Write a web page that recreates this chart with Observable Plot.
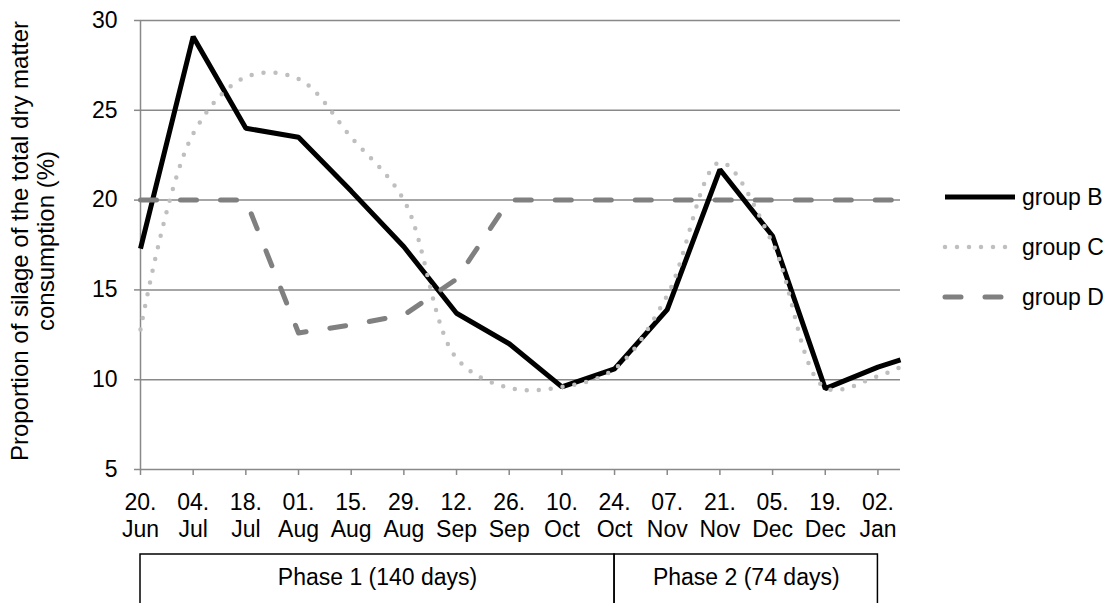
<!DOCTYPE html>
<html>
<head>
<meta charset="utf-8">
<script src="https://cdn.jsdelivr.net/npm/d3@7"></script>
<script src="https://cdn.jsdelivr.net/npm/@observablehq/plot@0.6"></script>
<style>
  html, body { margin: 0; padding: 0; background: #fff; overflow: hidden; }
  body { width: 1112px; height: 603px; position: relative; font-family: "Liberation Sans", Arial, sans-serif; color: #000; }
  #chart { position: absolute; left: 0; top: 0; }
  #phases { position: absolute; left: 0; top: 553px; }
  #legend { position: absolute; left: 930px; top: 170px; }
  svg { overflow: visible; }
  g[aria-label="y-axis tick label"] { fill: #000; }
</style>
</head>
<body>
<div id="chart"></div>
<div id="phases"></div>
<div id="legend"></div>
<script>
// ---- data ----
const dateLabels = ["20.\nJun","04.\nJul","18.\nJul","01.\nAug","15.\nAug","29.\nAug","12.\nSep","26.\nSep","10.\nOct","24.\nOct","07.\nNov","21.\nNov","05.\nDec","19.\nDec","02.\nJan"];
const labelDays = [0,14,28,42,56,70,84,98,112,126,140,154,168,182,196];
const sampleDays = [0,14,28,42,56,70,84,98,112,126,140,154,168,182,196,202];
const groupB = [17.3,29.1,24.0,23.5,20.5,17.4,13.7,12.0,9.6,10.6,13.9,21.7,18.0,9.5,10.7,11.1];
const groupC = [12.8,23.7,26.85,26.75,23.5,20.0,11.2,9.55,9.6,10.6,14.7,22.1,17.6,9.55,10.2,10.7];
const groupD = [20,20,20,12.6,13.05,13.6,15.6,20,20,20,20,20,20,20,20,20];
const yTicks = [5,10,15,20,25,30];
const gridValues = [10,15,20,25,30];
const seriesNames = ["group B","group C","group D"];
const phaseLabels = ["Phase 1 (140 days)","Phase 2 (74 days)"];
const phaseStart = [0,126];
const phaseEnd = [126,196];
const yTitle = "Proportion of silage of the total dry matter\nconsumption (%)";

// ---- derived tables ----
const toRows = (vals) => vals.map((v, i) => ({day: sampleDays[i], value: v}));
const rowsB = toRows(groupB), rowsC = toRows(groupC), rowsD = toRows(groupD);
const tickRows = labelDays.map((d, i) => ({day: d, label: dateLabels[i]}));
const phaseRows = phaseLabels.map((l, i) => ({label: l, start: phaseStart[i], end: phaseEnd[i]}));

const FONT = 23;
const GRID = "#898989";
const styles = {
  "group B": {stroke: "#000", strokeWidth: 5, strokeDasharray: null, strokeLinecap: "butt"},
  "group C": {stroke: "#bfbfbf", strokeWidth: 4.5, strokeDasharray: "0 12", strokeLinecap: "round"},
  "group D": {stroke: "#808080", strokeWidth: 5, strokeDasharray: "16 24", strokeLinecap: "round"}
};
const xDomain = [0, 202];
const W = 1112, ML = 140, MR = 212;

const chart = Plot.plot({
  width: W,
  height: 553,
  marginTop: 20,
  marginBottom: 84,
  marginLeft: ML,
  marginRight: MR,
  style: {fontFamily: "'Liberation Sans', Arial, sans-serif", fontSize: FONT + "px", color: "#000", background: "transparent"},
  x: {domain: xDomain, axis: null},
  y: {domain: [5, 30], axis: null},
  marks: [
    Plot.ruleY(gridValues, {stroke: GRID, strokeWidth: 1.5}),
    Plot.ruleY([5], {stroke: GRID, strokeWidth: 1.5}),
    Plot.ruleX([0], {stroke: GRID, strokeWidth: 1.5}),
    Plot.axisY({ticks: yTicks, tickSize: 6, tickPadding: 17, fontSize: FONT, stroke: GRID, strokeWidth: 1.5, label: null}),
    Plot.axisX({ticks: labelDays, tickSize: 6, tickFormat: () => "", stroke: GRID, strokeWidth: 1.5, label: null}),
    Plot.line(rowsB, {x: "day", y: "value", ...styles["group B"], strokeLinejoin: "miter"}),
    Plot.line(rowsC, {x: "day", y: "value", curve: "catmull-rom", ...styles["group C"]}),
    Plot.line(rowsD, {x: "day", y: "value", ...styles["group D"], strokeLinejoin: "round"}),
    Plot.text(tickRows, {x: "day", text: "label", frameAnchor: "bottom", lineAnchor: "top", dy: 21.7, lineHeight: 1.16, fontSize: FONT, fill: "#000"}),
    Plot.text([yTitle], {frameAnchor: "left", rotate: -90, dx: -107.5, dy: -4, textAnchor: "middle", lineAnchor: "middle", lineHeight: 1.05, fontSize: 24, fill: "#000"})
  ]
});
document.getElementById("chart").append(chart);

// phase boxes below the axis, sharing the x scale
const phases = Plot.plot({
  width: W,
  height: 80,
  marginTop: 1,
  marginBottom: 0,
  marginLeft: ML,
  marginRight: MR,
  style: {fontFamily: "'Liberation Sans', Arial, sans-serif", fontSize: FONT + "px", color: "#000", background: "transparent"},
  x: {domain: xDomain, axis: null},
  y: {domain: [0, 1], axis: null},
  marks: [
    Plot.rect(phaseRows, {x1: "start", x2: "end", y1: 0, y2: 1, fill: "none", stroke: "#000", strokeWidth: 1.5}),
    Plot.text(phaseRows, {x: (d) => (d.start + d.end) / 2, text: "label", frameAnchor: "top", lineAnchor: "middle", dy: 23, fontSize: FONT, fill: "#000"})
  ]
});
document.getElementById("phases").append(phases);

// legend
const leg = d3.select("#legend").append("svg").attr("width", 182).attr("height", 150);
seriesNames.forEach((name, i) => {
  const y = 27 + i * 50;
  const s = styles[name];
  leg.append("line")
    .attr("x1", 15).attr("x2", 85).attr("y1", y).attr("y2", y)
    .attr("stroke", s.stroke).attr("stroke-width", s.strokeWidth)
    .attr("stroke-dasharray", s.strokeDasharray).attr("stroke-linecap", s.strokeLinecap);
  leg.append("text")
    .attr("x", 92).attr("y", y).attr("dy", "0.35em")
    .attr("font-size", FONT).attr("font-family", "'Liberation Sans', Arial, sans-serif")
    .attr("fill", "#000").text(name);
});
</script>
</body>
</html>
